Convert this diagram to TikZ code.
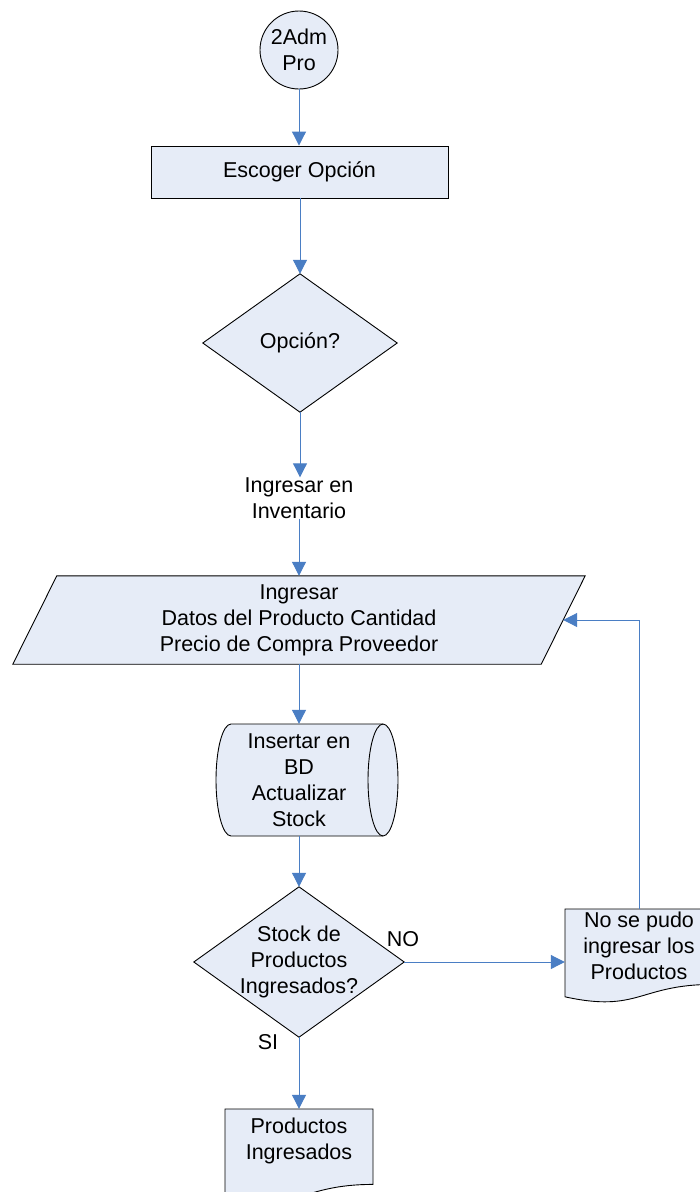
\documentclass[tikz,border=0pt]{standalone}
\usepackage{fontspec}
\setmainfont{Liberation Sans}
\usetikzlibrary{calc,arrows.meta,backgrounds}
\definecolor{shapefill}{RGB}{230,236,247}
\definecolor{linkblue}{RGB}{74,126,196}
\begin{document}
\begin{tikzpicture}[x=1pt,y=-1pt,
  txt/.style={font=\fontsize{21.5}{26}\selectfont, align=center, inner sep=0pt},
  outline/.style={draw=black, fill=shapefill, line width=0.9pt, line join=miter},
  link/.style={draw=linkblue, line width=1pt, -{Triangle[length=14pt,width=14pt]}},
  frame/.style={rectangle, minimum width=#1}
]
\path[use as bounding box, clip] (0,0) rectangle (700,1192);

% --- nodes (text and anchors) ---
\node[txt, circle, outline, minimum size=78pt] (start) at (299,50) {2Adm\\Pro};
\node[txt, rectangle, outline, minimum width=297pt, minimum height=52pt] (choose) at (299.5,172) {Escoger Opción};
\node[txt, minimum width=194pt, minimum height=138pt] (opt) at (300,343) {Opción?};
\node[txt] (ing) at (299,498) {Ingresar en\\Inventario};
\node[txt, minimum width=528pt, minimum height=88pt] (par) at (299,620)
  {Ingresar\\Datos del Producto Cantidad\\Precio de Compra Proveedor};
\node[txt, minimum width=136pt, minimum height=112pt] (db) at (299,780)
  {Insertar en\\BD\\Actualizar\\Stock};
\node[txt, minimum width=210pt, minimum height=150pt] (chk) at (299,962)
  {Stock de\\Productos\\Ingresados?};
\node[txt, minimum width=148pt, minimum height=74pt] (fail) at (639,946)
  {No se pudo\\ingresar los\\Productos};
\node[txt, minimum width=148pt, minimum height=64pt] (done) at (299,1141)
  {Productos\\Ingresados};
\node[txt] (no) at (403,939) {NO};
\node[txt] (si) at (268,1042) {SI};

% --- shape outlines behind the text ---
\begin{scope}[on background layer]
  \fill[white] (0,0) rectangle (700,1192);
  % decision: option
  \draw[outline] (opt.north) -- (opt.east) -- (opt.south) -- (opt.west) -- cycle;
  % data input
  \draw[outline] ($(par.north west)+(22,0)$) -- ($(par.north east)+(22,0)$)
    -- ($(par.south east)+(-22,0)$) -- ($(par.south west)+(-22,0)$) -- cycle;
  % stored data (horizontal drum)
  \draw[outline] (231,724) -- (383,724)
    .. controls (391.3,724) and (398,749.1) .. (398,780)
    .. controls (398,810.9) and (391.3,836) .. (383,836)
    -- (231,836)
    .. controls (222.7,836) and (216,810.9) .. (216,780)
    .. controls (216,749.1) and (222.7,724) .. (231,724) -- cycle;
  \draw[black, line width=0.9pt] (383,724)
    .. controls (374.7,724) and (368,749.1) .. (368,780)
    .. controls (368,810.9) and (374.7,836) .. (383,836);
  % decision: stock
  \draw[outline] (chk.north) -- (chk.east) -- (chk.south) -- (chk.west) -- cycle;
  % documents
  \draw[outline] (565,909) -- (713,909) -- (713,984.4)
    .. controls (639,984.4) and (639,1013.1) .. (565,996.8) -- cycle;
  \draw[outline] (225,1109) -- (373,1109) -- (373,1184.4)
    .. controls (299,1184.4) and (299,1213.1) .. (225,1196.8) -- cycle;
\end{scope}

% --- connectors ---
\draw[link] (start.south) -- (start.south |- choose.north);
\draw[link] (choose.south -| opt.north) -- (opt.north);
\draw[link] (opt.south) -- (opt.south |- ing.north);
\draw[link] (ing.south) -- (ing.south |- par.north);
\draw[link] (par.south) -- (db.north);
\draw[link] (db.south) -- (chk.north);
\draw[link] (chk.east) -- (chk.east -| fail.west);
\draw[link] (fail.north) |- (par.east);
\draw[link] (chk.south) -- (done.north);
\end{tikzpicture}
\end{document}
